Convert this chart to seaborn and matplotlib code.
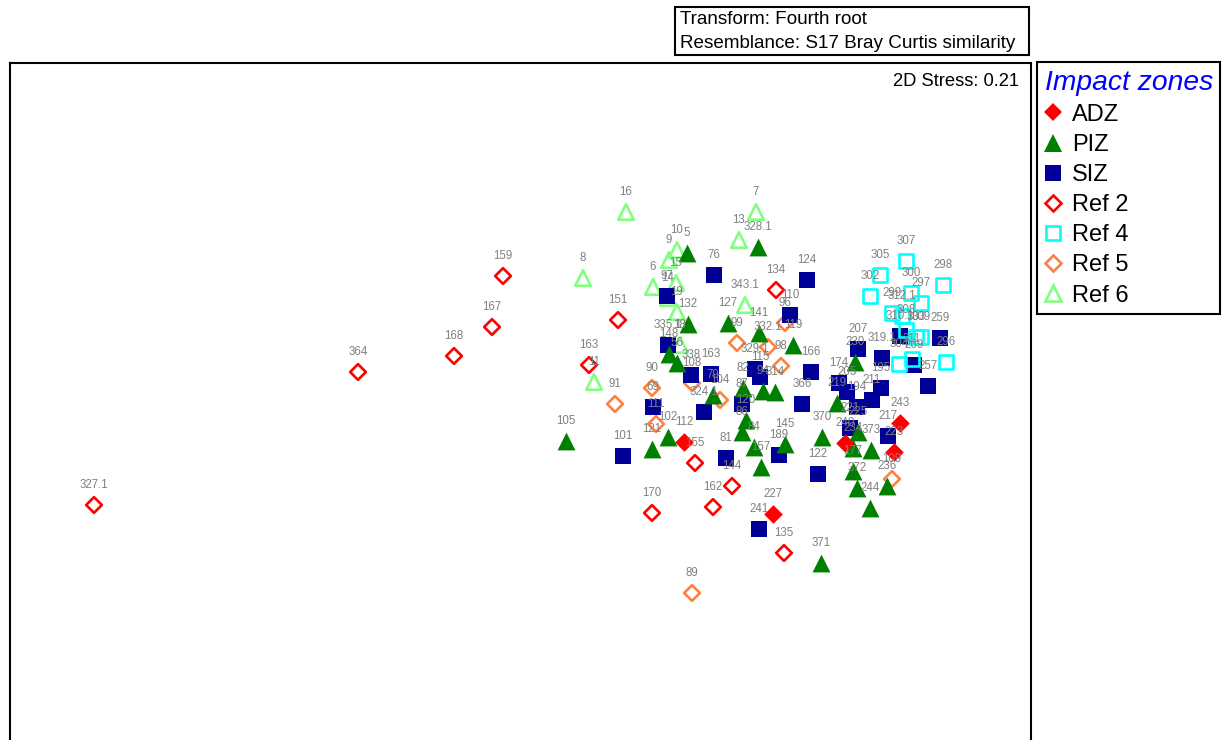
#!/usr/bin/env python3
"""
MDS ordination by impact zone
"""

import matplotlib
matplotlib.use('Agg')
import matplotlib.pyplot as plt
from matplotlib.lines import Line2D
import seaborn as sns

# ordination scores
adz_labels = ['112', '227', '243', '223', '240']
adz_x = [684, 773, 900, 894, 845]
adz_y = [442, 514, 423, 452, 443]

piz_labels = ['5', '328.1', '132', '127', '141', '119', '230', '148', '56', '79', '82', '94', '314',
              '219', '105', '102', '121', '120', '86', '84', '145', '157', '370', '225', '234', '373',
              '177', '372', '244', '236', '371']
piz_x = [687, 758, 688, 728, 759, 793, 855, 669, 677, 713, 743, 763, 775,
         837, 566, 668, 652, 746, 742, 754, 785, 761, 822, 858, 853, 871,
         853, 857, 870, 887, 821]
piz_y = [253, 247, 324, 323, 333, 345, 362, 354, 363, 395, 388, 391, 392,
         403, 441, 437, 449, 420, 432, 447, 444, 467, 437, 432, 448, 450,
         471, 488, 508, 486, 563]

siz_labels = ['97', '76', '124', '110', '335.1', '338', '163', '329.1', '115', '166', '366', '207',
              '319.1', '174', '205', '194', '221', '211', '195', '269', '310.1', '259', '257', '217',
              '324.1', '87', '69', '101', '81', '189', '122', '241']
siz_x = [667, 714, 807, 790, 668, 691, 711, 755, 760, 811, 802, 858,
         882, 839, 847, 857, 850, 872, 881, 914, 900, 940, 928, 888,
         704, 742, 653, 623, 726, 779, 818, 759]
siz_y = [296, 275, 280, 315, 345, 375, 374, 369, 377, 372, 404, 349,
         358, 383, 392, 407, 428, 400, 388, 365, 336, 338, 386, 436,
         412, 404, 407, 456, 458, 455, 474, 529]

ref2_labels = ['327.1', '364', '168', '167', '159', '151', '163', '134', '155', '144', '162', '170', '135']
ref2_x = [94, 358, 454, 492, 503, 618, 589, 776, 695, 732, 713, 652, 784]
ref2_y = [505, 372, 356, 327, 276, 320, 365, 290, 463, 486, 507, 513, 553]

ref4_labels = ['307', '305', '302', '300', '298', '297', '299', '312.1', '308', '309', '303', '311', '304', '296']
ref4_x = [906, 880, 870, 911, 943, 921, 892, 902, 906, 921, 916, 912, 899, 946]
ref4_y = [261, 275, 296, 293, 285, 303, 313, 316, 330, 337, 337, 359, 364, 362]

ref5_labels = ['89', '90', '91', '111', '108', '104', '99', '332.1', '96', '98', '109']
ref5_x = [692, 652, 615, 656, 692, 720, 737, 768, 785, 781, 892]
ref5_y = [593, 388, 404, 424, 383, 400, 343, 347, 323, 366, 479]

ref6_labels = ['16', '7', '13', '10', '9', '8', '15', '6', '14', '19', '343.1', '18', '11']
ref6_x = [626, 756, 739, 677, 669, 583, 676, 653, 668, 677, 745, 680, 594]
ref6_y = [212, 212, 240, 250, 260, 278, 283, 287, 298, 312, 305, 345, 382]

sns.set_style('white')
plt.rcParams['font.family'] = ['Liberation Sans', 'DejaVu Sans']
plt.rcParams['text.color'] = 'black'

W, H = 1222, 740
fig = plt.figure(figsize=(W / 100, H / 100), dpi=100)
# plot frame runs off the bottom of the page
ax = fig.add_axes([10 / W, -20 / H, 1021 / W, 697 / H])

# name, labels, x, y, marker, size, colour, filled, line width
groups = [
    ('Ref 6', ref6_labels, ref6_x, ref6_y, '^', 125, '#80FF80', False, 1.9),
    ('Ref 5', ref5_labels, ref5_x, ref5_y, 'D', 64, '#FF8040', False, 1.9),
    ('SIZ', siz_labels, siz_x, siz_y, 's', 133, '#000099', True, 0),
    ('PIZ', piz_labels, piz_x, piz_y, '^', 165, '#008000', True, 0),
    ('Ref 2', ref2_labels, ref2_x, ref2_y, 'D', 64, '#FF0000', False, 1.9),
    ('Ref 4', ref4_labels, ref4_x, ref4_y, 's', 100, '#00FFFF', False, 1.9),
    ('ADZ', adz_labels, adz_x, adz_y, 'D', 90, '#FF0000', True, 0),
]

handles = {}
for i, (name, labels, xs, ys, marker, size, color, filled, lw) in enumerate(groups):
    sns.scatterplot(x=xs, y=ys, ax=ax, marker=marker, s=size, linewidth=lw,
                    facecolor=color if filled else 'none',
                    edgecolor=color, zorder=3 + i, legend=False)
    handles[name] = Line2D([], [], linestyle='none', marker=marker,
                           markersize=size ** 0.5,
                           markerfacecolor=color if filled else 'none',
                           markeredgecolor=color, markeredgewidth=lw)

# sample labels go on top of the symbols
for name, labels, xs, ys, *_ in groups:
    for lab, x, y in zip(labels, xs, ys):
        ax.annotate(lab, (x, y), xytext=(0, 14.6), textcoords='offset points',
                    ha='center', va='center', fontsize=8.3, color='#808080', zorder=20)

ax.set_xlim(10, 1031)
ax.set_ylim(760, 63)
ax.set_xticks([])
ax.set_yticks([])
ax.set_xlabel('')
ax.set_ylabel('')
for spine in ax.spines.values():
    spine.set_linewidth(1.5)
    spine.set_color('black')

fig.text(1019 / W, 1 - 81 / H, '2D Stress: 0.21', ha='right', va='center', fontsize=13.2, color='black')

# transform / resemblance box
fig.patches.append(plt.Rectangle((675 / W, 1 - 55 / H), 354 / W, 48 / H, transform=fig.transFigure,
                                 facecolor='white', edgecolor='black', linewidth=1.5))
fig.text(680 / W, 1 - 19 / H, 'Transform: Fourth root', ha='left', va='center', fontsize=13.6)
fig.text(680 / W, 1 - 43 / H, 'Resemblance: S17 Bray Curtis similarity', ha='left', va='center', fontsize=13.6)

# legend
order = ['ADZ', 'PIZ', 'SIZ', 'Ref 2', 'Ref 4', 'Ref 5', 'Ref 6']
leg = fig.legend([handles[k] for k in order], order,
                 loc='upper left', bbox_to_anchor=(1037 / W, 1 - 62 / H), borderaxespad=0,
                 fontsize=17, title='Impact zones', frameon=True, fancybox=False,
                 framealpha=1, edgecolor='black', labelspacing=0.345, handletextpad=0.47,
                 handlelength=0.68, borderpad=0.32, alignment='left',
                 title_fontproperties={'size': 20.3, 'style': 'italic', 'family': 'Liberation Sans'})
leg.get_title().set_color('#0000FF')
leg.get_frame().set_linewidth(1.5)

fig.savefig('out.png', dpi=100)
